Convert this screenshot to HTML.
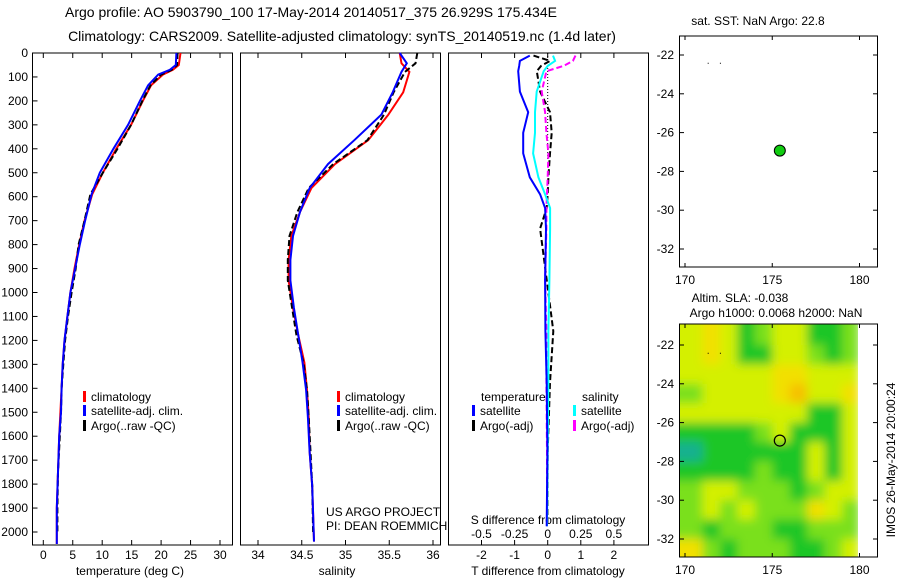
<!DOCTYPE html>
<html><head><meta charset="utf-8"><style>
body{margin:0;background:#fff;}
svg text{font-family:"Liberation Sans",sans-serif;font-size:12px;fill:#000;}
</style></head><body>
<svg id="fig" width="900" height="580" viewBox="0 0 900 580" xmlns="http://www.w3.org/2000/svg">
<defs>
<filter id="blur" x="-10%" y="-10%" width="120%" height="120%"><feGaussianBlur stdDeviation="5"/></filter>
<clipPath id="mapclip"><rect x="679" y="324" width="179" height="233"/></clipPath>
</defs>
<text x="311" y="17" text-anchor="middle" style="font-size:14px">Argo profile: AO 5903790_100 17-May-2014 20140517_375 26.929S 175.434E</text>
<text x="342" y="41" text-anchor="middle" style="font-size:14px">Climatology: CARS2009. Satellite-adjusted climatology: synTS_20140519.nc (1.4d later)</text>
<g id="g"></g>
</svg>
<script>
// ---- data ----
const depthT = [0,50,70,90,135,200,300,400,500,590,700,800,900,1000,1100,1200,1300,1400,1500,1600,1750,1900,2050];
const climT = [23.3,23.0,22.0,20.3,18.3,16.9,14.9,12.4,10.1,8.3,7.0,6.1,5.3,4.6,4.1,3.6,3.3,3.1,2.9,2.7,2.5,2.3,2.3];
const satT = [22.6,22.5,21.5,19.5,17.8,16.4,14.4,11.9,9.6,8.2,7.1,6.2,5.4,4.6,4.1,3.6,3.3,3.1,3.0,2.7,2.5,2.3,2.3];
const argoT = [22.8,22.7,21.8,20.0,18.2,16.8,14.9,12.6,10.1,8.0,7.0,6.0,5.5,4.8,4.2,3.7,3.4,3.1,3.0,2.8,2.5,2.4,2.4];
const depthS = [0,43,79,164,257,364,464,564,664,764,864,950,1064,1179,1293,1407,1521,1664,1807,2040];
const climS = [35.62,35.64,35.73,35.66,35.49,35.26,34.88,34.61,34.48,34.38,34.35,34.35,34.40,34.46,34.53,34.56,34.58,34.59,34.62,34.64];
const satS = [35.62,35.70,35.64,35.54,35.41,35.10,34.80,34.59,34.48,34.40,34.37,34.37,34.41,34.46,34.51,34.55,34.57,34.59,34.62,34.64];
const argoS = [35.82,35.80,35.68,35.55,35.44,35.25,34.86,34.58,34.45,34.36,34.34,34.34,34.39,34.44,34.52,34.56,34.58,34.60,34.62,34.63];
const depthD = [11,33,54,76,161,247,333,419,519,590,647,733,947,1161,1376,1661,1976];
const satTdiff = [-0.54,-0.84,-0.86,-0.89,-0.84,-0.59,-0.74,-0.74,-0.54,-0.23,-0.08,-0.05,-0.08,-0.07,-0.03,-0.01,-0.03];
const argoTdiff = [-0.43,0.07,-0.2,-0.33,-0.23,0.07,0.12,0.07,0.02,0.0,-0.03,-0.23,-0.03,0.17,0.07,0.0,-0.01];
const satSdiff = [0.04,0.056,0.0,-0.03,-0.083,-0.096,-0.096,-0.11,-0.07,-0.02,0.018,0.018,0.013,0.005,0.005,0.0,-0.005];
const argoSdiff = [0.21,0.19,0.12,-0.01,-0.045,-0.02,-0.01,0.005,0.0,-0.005,-0.01,-0.01,-0.02,-0.01,-0.01,-0.005,-0.005];
const depthTicks = [0,100,200,300,400,500,600,700,800,900,1000,1100,1200,1300,1400,1500,1600,1700,1800,1900,2000];
const tTicks = [0,5,10,15,20,25,30];
const sTicks = [34,34.5,35,35.5,36];
const tdTicks = [-2,-1,0,1,2];
const sdTicks = [-0.5,-0.25,0,0.25,0.5];
const sdTickLabels = ['-0.5','-0.25','0','0.25','0.5'];
const lonTicks = [170,175,180];
const latTicks = [-22,-24,-26,-28,-30,-32];
const argoLon = 175.434, argoLat = -26.929;
const smallDotsLon = [171.3,172.0];
const smallDotsLat = [-22.4,-22.4];
// SLA grid (0=teal .. 5=orange), rows lat -21.5..-32.5, cols lon 170.5..179.5
const slaRow0 = [3,4,3,1,2,3,3,1,1,2];
const slaRow1 = [3,4,3,1,1,3,3,2,1,2];
const slaRow2 = [3,3,3,3,3,4,4,3,3,3];
const slaRow3 = [2,3,3,3,3,4,5,3,3,4];
const slaRow4 = [3,3,3,3,3,3,3,1,1,3];
const slaRow5 = [1,1,1,1,2,3,1,0.5,1,3];
const slaRow6 = [0,0.5,1,1,1,1,0.5,3,1,3];
const slaRow7 = [1,1,1,1,2,1,0.5,3,1,3];
const slaRow8 = [2,3,3,2,2,2,1,2,3,3];
const slaRow9 = [2,3,2,3,2,2,2,4,3,2];
const slaRow10 = [2,1,2,2,2,1,1,2,2,2];
const slaRow11 = [4,2,1,2,2,2,1,1,2,3];
const slaRows = [slaRow0,slaRow1,slaRow2,slaRow3,slaRow4,slaRow5,slaRow6,slaRow7,slaRow8,slaRow9,slaRow10,slaRow11];

// ---- scales ----
const NS='http://www.w3.org/2000/svg';
const G=document.getElementById('g');
function mk(tag,at,parent){const e=document.createElementNS(NS,tag);for(const k in at)e.setAttribute(k,at[k]);(parent||G).appendChild(e);return e;}
const Y0=53, YPER=23.95/100; const yD=d=>Y0+d*YPER; const YB=545;
const xT=t=>43.3+t*(220-43.3)/30;
const xS=s=>258+(s-34)*(433-258)/2;
const xTd=t=>547.7+t*33.1;
const xSd=s=>547.7+s*4*33.1;
const mxLon=l=>685+(l-170)*17.45;
const myLat=a=>55+(-22-a)*19.4;
const my2Lat=a=>345+(-22-a)*19.4;

function box(x1,x2,y1,y2,name){const r=mk('rect',{x:x1,y:y1,width:x2-x1,height:y2-y1,fill:'none',stroke:'#000','stroke-width':1});}
function txt(x,y,s,anchor,name,extra){const t=mk('text',Object.assign({x:x,y:y,'text-anchor':anchor||'middle'},extra||{}));t.textContent=s;return t;}
function line(xs,ys,color,w,dash,name){let d='';for(let i=0;i<xs.length;i++)d+=(i?'L':'M')+xs[i].toFixed(1)+','+ys[i].toFixed(1);const p=mk('path',{d:d,fill:'none',stroke:color,'stroke-width':w});if(dash)p.setAttribute('stroke-dasharray',dash);}
function tick(x1,y1,x2,y2){const l=mk('line',{x1:x1,y1:y1,x2:x2,y2:y2,stroke:'#000','stroke-width':1});}

// panel frames
const panels=[[32.5,232.5,'temperature-panel'],[240.5,440.5,'salinity-panel'],[448.5,648.5,'difference-panel']];
panels.forEach(p=>{box(p[0],p[1],Y0,YB,p[2]);depthTicks.forEach(d=>{if(p[0]<40)tick(p[0],yD(d),p[0]+5,yD(d));});});
depthTicks.forEach(d=>txt(28,yD(d)+4,String(d),'end','depth-tick-label'));
// x ticks
tTicks.forEach(t=>{tick(xT(t),YB,xT(t),YB-5);tick(xT(t),Y0,xT(t),Y0+5);txt(xT(t),559,String(t),'middle','temperature-tick-label');});
sTicks.forEach(s=>{tick(xS(s),YB,xS(s),YB-5);tick(xS(s),Y0,xS(s),Y0+5);txt(xS(s),559,String(s),'middle','salinity-tick-label');});
tdTicks.forEach(t=>{tick(xTd(t),YB,xTd(t),YB-5);tick(xTd(t),Y0,xTd(t),Y0+5);txt(xTd(t),559,String(t),'middle','t-diff-tick-label');});
sdTicks.forEach((s,i)=>txt(xSd(s),538,sdTickLabels[i],'middle','s-diff-tick-label'));
txt(130,575,'temperature (deg C)','middle','temperature-axis-title');
txt(337,575,'salinity','middle','salinity-axis-title');
txt(548,575,'T difference from climatology','middle','t-diff-axis-title');
txt(548,524,'S difference from climatology','middle','s-diff-axis-title');

// profiles
line(climT.map(xT),depthT.map(yD),'#f00',2,null,'climatology-temperature-line');
line(argoT.map(xT),depthT.slice(0,-1).concat([2000]).map(yD),'#000',2,'6,3','argo-temperature-line');
line(satT.map(xT),depthT.map(yD),'#00f',2,null,'satellite-temperature-line');
line(climS.map(xS),depthS.map(yD),'#f00',2,null,'climatology-salinity-line');
line(argoS.map(xS),depthS.slice(0,-1).concat([2000]).map(yD),'#000',2,'6,3','argo-salinity-line');
line(satS.map(xS),depthS.map(yD),'#00f',2,null,'satellite-salinity-line');
line([xTd(0),xTd(0)],[yD(0),yD(450)],'#000',1,'1,2','zero-reference-line');
line(argoTdiff.map(xTd),depthD.map(yD),'#000',2,'6,3','argo-t-diff-line');
line(argoSdiff.map(xSd),depthD.map(yD),'#f0f',2,'6,3','argo-s-diff-line');
line(satSdiff.map(xSd),depthD.map(yD),'#0ff',2,null,'satellite-s-diff-line');
line(satTdiff.map(xTd),depthD.map(yD),'#00f',2,null,'satellite-t-diff-line');

// legends
function leg(x,y,color,label,name){const r=mk('rect',{x:x,y:y-10,width:3,height:11,fill:color});txt(x+8,y,label,'start',name);}
[[83,'climatology-legend'],[337,'salinity-climatology-legend']].forEach(a=>{leg(a[0],401,'#f00','climatology',a[1]);leg(a[0],415,'#00f','satellite-adj. clim.',a[1]+'-sat');leg(a[0],430,'#000','Argo(..raw -QC)',a[1]+'-argo');});
txt(481,401,'temperature','start','diff-legend-temperature-heading');
leg(472,415,'#00f','satellite','diff-legend-t-satellite');
leg(472,430,'#000','Argo(-adj)','diff-legend-t-argo');
txt(582,401,'salinity','start','diff-legend-salinity-heading');
leg(573,415,'#0ff','satellite','diff-legend-s-satellite');
leg(573,430,'#f0f','Argo(-adj)','diff-legend-s-argo');
txt(326,516,'US ARGO PROJECT','start','project-credit');
txt(326,530,'PI: DEAN ROEMMICH','start','pi-credit');

// maps
function mapAxes(top,bot,yfun,name){box(679.5,877.5,top,bot,name);
 lonTicks.forEach(l=>{tick(mxLon(l),bot,mxLon(l),bot-4);tick(mxLon(l),top,mxLon(l),top+4);txt(mxLon(l),bot+17,String(l),'middle','map-lon-label');});
 latTicks.forEach(a=>{tick(679.5,yfun(a),684,yfun(a));tick(877.5,yfun(a),873,yfun(a));txt(674,yfun(a)+4,String(a),'end','map-lat-label');});}
// SLA heatmap
const cmap=['#14b090','#1ec628','#7ae01a','#d4f000','#f2e000','#f6c000'];
function col(v){const i=Math.max(0,Math.min(5,Math.round(v)));return cmap[i];}
const hg=mk('g',{'clip-path':'url(#mapclip)'});
const hb=mk('g',{filter:'url(#blur)'},hg);
slaRows.forEach((row,ri)=>row.forEach((v,ci)=>{const lat=-21-ri, lon=170+ci;const x=mxLon(lon)-(ci==0?20:0), w=17.45+(ci==0?20:0)+(ci==9?0:1);const y=my2Lat(lat)-(ri==0?25:0), h=19.4+1+(ri==0?25:0)+(ri==11?25:0);
 const r=mk('rect',{x:x,y:y,width:w,height:h,fill:col(v)},hb);}));
mapAxes(36,267,myLat,'sst-map');
mapAxes(324,557,my2Lat,'sla-map');
smallDotsLon.forEach((l,i)=>{mk('rect',{x:mxLon(l),y:myLat(smallDotsLat[i]),width:1,height:1,fill:'#000'});mk('rect',{x:mxLon(l),y:my2Lat(smallDotsLat[i]),width:1,height:1,fill:'#000'});});
const c1=mk('circle',{cx:mxLon(argoLon),cy:myLat(argoLat),r:5.5,fill:'#1c1',stroke:'#000','stroke-width':1});

const c2=mk('circle',{cx:mxLon(argoLon),cy:my2Lat(argoLat),r:5.5,fill:'none',stroke:'#000','stroke-width':1.2});

txt(758,25,'sat. SST: NaN Argo: 22.8','middle','sst-map-title');
txt(740,302,'Altim. SLA: -0.038','middle','sla-map-title');
txt(776,317,'Argo h1000: 0.0068 h2000: NaN','middle','sla-map-subtitle');
txt(0,0,'IMOS 26-May-2014 20:00:24','middle','imos-timestamp',{transform:'translate(895,460) rotate(-90)'});
</script>
</body></html>
